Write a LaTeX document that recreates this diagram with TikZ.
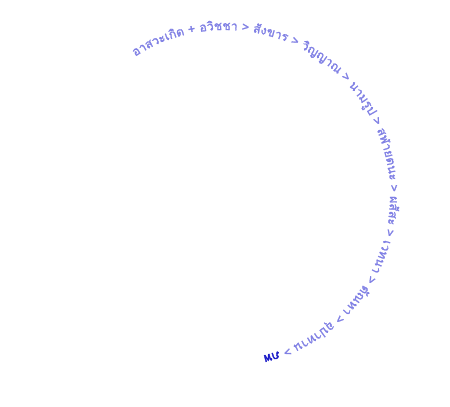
\documentclass[tikz,border=0pt]{standalone}
\usepackage{fontspec}
\newfontfamily\thaifont[Script=Thai,FakeBold=1.5]{Loma}
\newfontfamily\thaiheavy[Script=Thai,FakeBold=3]{Loma}
\usetikzlibrary{decorations.text}
\definecolor{ringtxt}{RGB}{128,128,228}
\definecolor{endtxt}{RGB}{30,30,200}
\tikzset{
  ring/.style={decorate,decoration={text along path,text align=left,
    text={#1}}}
}
\begin{document}
\begin{tikzpicture}[x=1pt,y=1pt]
\useasboundingbox (0,0) rectangle (450,407);
\coordinate (c) at (225,212);
% chain of dependent origination around the ring
\path[ring={|\thaifont\fontsize{12.2}{14}\selectfont\color{ringtxt}|อาสวะเ{กิ}ด + อ{วิ}ชชา > {สั}งขาร > {วิ}ญญาณ > นาม{รู}ป > สฬายตนะ > ผ{สั}สะ > เวทนา > {ตั}ณหา > {อุ}ปาทาน > |\thaiheavy\fontsize{12.2}{14}\selectfont\color{endtxt}|ภพ}]
  (c) ++(123:165) arc[start angle=123,end angle=-100,radius=165];
\end{tikzpicture}
\end{document}
